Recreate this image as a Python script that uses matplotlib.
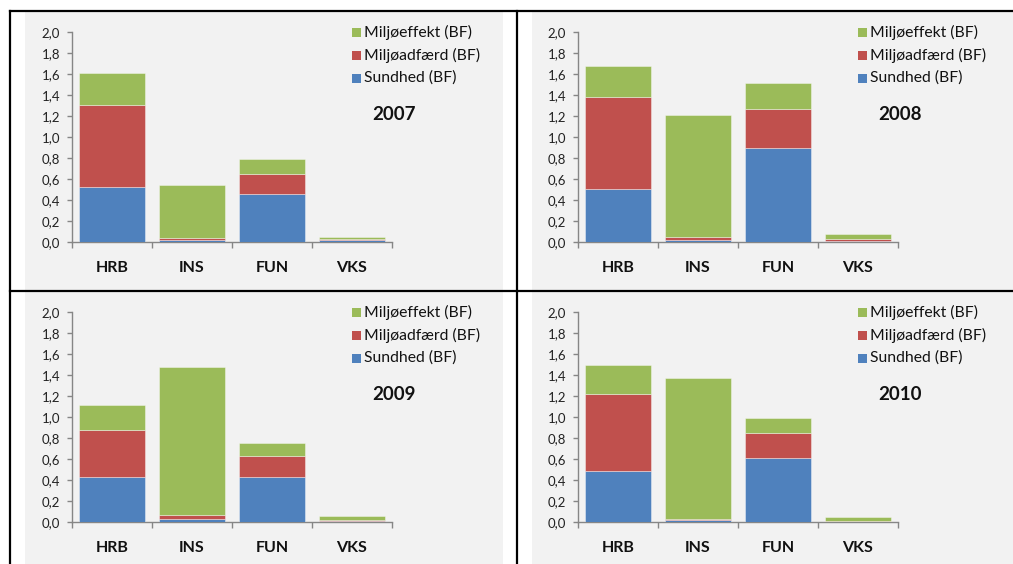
import matplotlib
matplotlib.use("Agg")
import matplotlib.pyplot as plt
from matplotlib.patches import Rectangle
from matplotlib.lines import Line2D
import numpy as np

plt.rcParams['font.family'] = ['Lato', 'DejaVu Sans']

categories = ["HRB", "INS", "FUN", "VKS"]
series_names = ["Sundhed (BF)", "Miljøadfærd (BF)", "Miljøeffekt (BF)"]
years = ["2007", "2008", "2009", "2010"]

sundhed_2007 = [0.524, 0.019, 0.457, 0.016]
miljoadfaerd_2007 = [0.778, 0.019, 0.187, 0.009]
miljoeffekt_2007 = [0.304, 0.508, 0.150, 0.026]

sundhed_2008 = [0.505, 0.022, 0.895, 0.014]
miljoadfaerd_2008 = [0.873, 0.029, 0.368, 0.018]
miljoeffekt_2008 = [0.295, 1.162, 0.251, 0.041]

sundhed_2009 = [0.432, 0.029, 0.432, 0.008]
miljoadfaerd_2009 = [0.441, 0.034, 0.193, 0.014]
miljoeffekt_2009 = [0.244, 1.410, 0.127, 0.035]

sundhed_2010 = [0.483, 0.016, 0.610, 0.004]
miljoadfaerd_2010 = [0.733, 0.009, 0.241, 0.009]
miljoeffekt_2010 = [0.279, 1.343, 0.143, 0.035]

yticks = [0.0, 0.2, 0.4, 0.6, 0.8, 1.0, 1.2, 1.4, 1.6, 1.8, 2.0]
ytick_labels = ["0,0", "0,2", "0,4", "0,6", "0,8", "1,0", "1,2", "1,4", "1,6", "1,8", "2,0"]

data = {
    "2007": [sundhed_2007, miljoadfaerd_2007, miljoeffekt_2007],
    "2008": [sundhed_2008, miljoadfaerd_2008, miljoeffekt_2008],
    "2009": [sundhed_2009, miljoadfaerd_2009, miljoeffekt_2009],
    "2010": [sundhed_2010, miljoadfaerd_2010, miljoeffekt_2010],
}
colors = ["#4F81BD", "#C0504D", "#9BBB59"]
axis_col = "#868686"

W, H = 1013, 564
fig = plt.figure(figsize=(W / 100, H / 100), dpi=100)
fig.patch.set_facecolor("white")


def fx(px):
    return px / W


def fy(py):
    return (H - py) / H


# gray panel backgrounds
bg = "#F2F2F2"
for (x0, y0, x1, y1) in [(25, 12, 503, 290), (532, 12, 1013, 290),
                         (25, 292, 503, 564), (532, 292, 1013, 564)]:
    fig.add_artist(Rectangle((fx(x0), fy(y1)), fx(x1) - fx(x0), fy(y0) - fy(y1),
                             transform=fig.transFigure, facecolor=bg,
                             edgecolor="none", zorder=-10))

# black frame lines
lw = 1.6
fig.add_artist(Line2D([fx(10), fx(1013)], [fy(11), fy(11)], color="black", lw=lw,
                      transform=fig.transFigure))
fig.add_artist(Line2D([fx(10), fx(1013)], [fy(290.5), fy(290.5)], color="black", lw=lw,
                      transform=fig.transFigure))
fig.add_artist(Line2D([fx(10), fx(10)], [fy(11), fy(564)], color="black", lw=lw,
                      transform=fig.transFigure))
fig.add_artist(Line2D([fx(517), fx(517)], [fy(11), fy(564)], color="black", lw=lw,
                      transform=fig.transFigure))

panels = [("2007", 72, 32, 242), ("2008", 578, 32, 242),
          ("2009", 72, 312, 522), ("2010", 578, 312, 522)]

x = np.arange(len(categories))
for year, x0, ytop, ybot in panels:
    ax = fig.add_axes([fx(x0), fy(ybot), 320 / W, (ybot - ytop) / H])
    ax.set_facecolor("none")
    bottom = np.zeros(len(categories))
    for vals, c in zip(data[year], colors):
        ax.bar(x, vals, width=0.83, bottom=bottom, color=c,
               edgecolor=(1, 1, 1, 0.45), linewidth=0.6, zorder=3)
        bottom = bottom + np.array(vals)
    ax.set_xlim(-0.5, 3.5)
    ax.set_ylim(0, 2.0)
    for s in ["top", "right"]:
        ax.spines[s].set_visible(False)
    for s in ["left", "bottom"]:
        ax.spines[s].set_color(axis_col)
        ax.spines[s].set_linewidth(1.0)
    ax.set_yticks(yticks)
    ax.set_yticklabels(ytick_labels, fontsize=9.5, color="#222222")
    ax.tick_params(axis="y", direction="out", length=3.6, width=1.0,
                   color=axis_col, pad=5)
    ax.set_xticks([-0.5, 0.5, 1.5, 2.5, 3.5])
    ax.set_xticklabels([])
    ax.tick_params(axis="x", which="major", direction="out", length=4.3,
                   width=1.0, color=axis_col)
    ax.set_xticks(x, minor=True)
    ax.set_xticklabels(categories, minor=True, fontsize=11.5,
                       fontweight="bold", color="#111111")
    ax.tick_params(axis="x", which="minor", length=0, pad=14)

    # legend (manual)
    lx = x0 + 280
    ly0 = ytop
    for i, (name, c) in enumerate(zip(series_names[::-1], colors[::-1])):
        cy = ly0 + i * 23
        fig.add_artist(Rectangle((fx(lx), fy(cy + 4.5)), 9 / W, 9 / H,
                                 transform=fig.transFigure, facecolor=c,
                                 edgecolor="none"))
        fig.text(fx(lx + 12), fy(cy), name, fontsize=11.3, color="#111111",
                 ha="left", va="center")
    fig.text(fx(x0 + 322), fy(ytop + 82), year, fontsize=13.5, fontweight="bold",
             color="#111111", ha="center", va="center")

fig.savefig("out.png", dpi=100, facecolor="white")
